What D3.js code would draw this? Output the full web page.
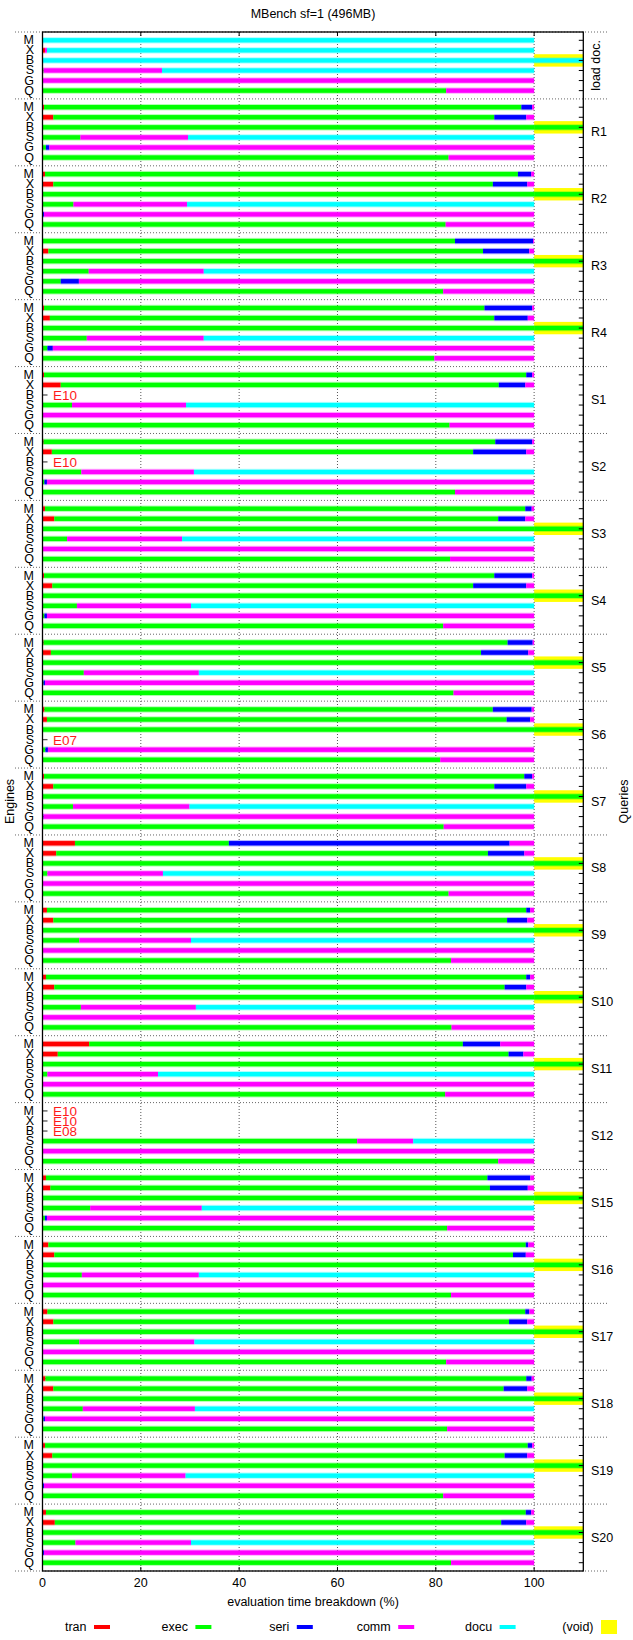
<!DOCTYPE html>
<html>
<head>
<meta charset="utf-8">
<script src="https://cdn.jsdelivr.net/npm/d3@7"></script>
<style>
  html, body { margin: 0; padding: 0; background: #fff; }
  svg text { font-family: "Liberation Sans", Arial, Helvetica, sans-serif; fill: #000; }
</style>
</head>
<body>
<svg id="chart" width="633" height="1640"></svg>
<script>
// ---------------- data ----------------
const queries = ["load doc.","R1","R2","R3","R4","S1","S2","S3","S4","S5","S6","S7","S8","S9","S10","S11","S12","S15","S16","S17","S18","S19","S20"];
const engines = ["M","X","B","S","G","Q"];
const components = ["tran","exec","seri","comm","docu"];
const compColors = ["#ff0000","#00ff00","#0000ff","#ff00ff","#00ffff"];
const voidColor = "#ffff00";
const xTicks = [0,20,40,60,80,100];

// rows: [tran, exec, seri, comm, docu] for engines M, X, B, S, G, Q ; null = failed run
const q_loadDoc = [[0,0,0,0,100],[0.5,0,0,0.4,99.1],[0,0,0,0,100],[0,0.2,0,24.1,75.7],[0,0,0,100,0],[0,82.1,0,17.9,0]];
const q_R1  = [[0.3,97.1,2.2,0.4,0],[2.2,89.7,6.5,1.6,0],[0,100,0,0,0],[0,7.7,0,21.9,70.4],[0,0.7,0.7,98.6,0],[0,82.6,0,17.4,0]];
const q_R2  = [[0.5,96.2,2.7,0.6,0],[2.2,89.4,7.0,1.4,0],[0,100,0,0,0],[0,6.3,0,23.1,70.6],[0,0.1,0.2,99.7,0],[0,82.0,0,18.0,0]];
const q_R3  = [[0,83.9,15.9,0.2,0],[1.2,88.4,9.4,1.0,0],[0,100,0,0,0],[0,9.4,0,23.4,67.2],[0,3.7,3.7,92.6,0],[0,81.5,0,18.5,0]];
const q_R4  = [[0.3,89.6,9.7,0.4,0],[1.5,90.4,6.8,1.3,0],[0,100,0,0,0],[0,9.0,0,23.8,67.2],[0,1.0,1.1,97.9,0],[0,79.7,0,20.3,0]];
const q_S1  = [[0.3,98.1,1.2,0.4,0],[3.7,89.1,5.4,1.8,0],null,[0,6.0,0,23.2,70.8],[0,0,0,100,0],[0,82.8,0,17.2,0]];
const q_S2  = [[0.2,91.9,7.5,0.4,0],[1.9,85.7,10.8,1.6,0],null,[0,7.9,0,22.9,69.2],[0,0.4,0.5,99.1,0],[0,83.9,0,16.1,0]];
const q_S3  = [[0.5,97.7,1.3,0.5,0],[2.4,90.3,5.5,1.8,0],[0,100,0,0,0],[0,5.0,0,23.4,71.6],[0,0,0,100,0],[0,82.9,0,17.1,0]];
const q_S4  = [[0.3,91.6,7.7,0.4,0],[2.0,85.6,10.8,1.6,0],[0,100,0,0,0],[0,7.0,0,23.2,69.8],[0,0.4,0.5,99.1,0],[0,81.5,0,18.5,0]];
const q_S5  = [[0.2,94.4,5.1,0.3,0],[1.7,87.5,9.6,1.2,0],[0,100,0,0,0],[0,8.4,0,23.4,68.2],[0,0.2,0.3,99.5,0],[0,83.6,0,16.4,0]];
const q_S6  = [[0.4,91.2,7.9,0.5,0],[0.9,93.5,4.8,0.8,0],[0,100,0,0,0],null,[0,0.6,0.5,98.9,0],[0,80.9,0,19.1,0]];
const q_S7  = [[0.3,97.7,1.6,0.4,0],[2.2,89.7,6.5,1.6,0],[0,100,0,0,0],[0,6.2,0,23.7,70.1],[0,0,0.2,99.8,0],[0,81.6,0,18.4,0]];
const q_S8  = [[6.6,31.3,57.1,5.0,0],[2.8,87.8,7.4,2.0,0],[0,100,0,0,0],[0,1.0,0,23.5,75.5],[0,0,0,100,0],[0,82.6,0,17.4,0]];
const q_S9  = [[0.9,97.5,0.8,0.8,0],[2.2,92.3,4.1,1.4,0],[0,100,0,0,0],[0,7.5,0,22.7,69.8],[0,0,0,100,0],[0,83.1,0,16.9,0]];
const q_S10 = [[0.7,97.7,0.8,0.8,0],[2.4,91.6,4.4,1.6,0],[0,100,0,0,0],[0,7.8,0,23.4,68.8],[0,0,0,100,0],[0,83.2,0,16.8,0]];
const q_S11 = [[9.5,76.0,7.6,6.9,0],[3.1,91.7,3.0,2.2,0],[0,100,0,0,0],[0,1.0,0,22.5,76.5],[0,0,0,100,0],[0,81.9,0,18.1,0]];
const q_S12 = [null,null,null,[0,64.0,0,11.4,24.6],[0,0,0,100,0],[0,92.7,0,7.3,0]];
const q_S15 = [[0.7,89.8,8.7,0.8,0],[1.6,89.4,7.7,1.3,0],[0,100,0,0,0],[0,9.7,0,22.7,67.6],[0,0.5,0.4,99.1,0],[0,82.3,0,17.7,0]];
const q_S16 = [[1.2,97.1,0.5,1.2,0],[2.4,93.3,2.6,1.7,0],[0,100,0,0,0],[0,8.0,0,23.8,68.2],[0,0,0,100,0],[0,83.1,0,16.9,0]];
const q_S17 = [[1.0,97.2,0.8,1.0,0],[2.2,92.7,3.7,1.4,0],[0,100,0,0,0],[0,7.5,0,23.4,69.1],[0,0,0,100,0],[0,82.1,0,17.9,0]];
const q_S18 = [[0.6,97.8,1.1,0.5,0],[2.2,91.6,4.8,1.4,0],[0,100,0,0,0],[0,8.2,0,22.8,69.0],[0,0.2,0.3,99.5,0],[0,82.3,0,17.7,0]];
const q_S19 = [[0.5,98.2,0.9,0.4,0],[2.0,92.0,4.6,1.4,0],[0,100,0,0,0],[0,6.0,0,23.1,70.9],[0,0.1,0.2,99.7,0],[0,81.5,0,18.5,0]];
const q_S20 = [[0.7,97.6,1.1,0.6,0],[2.5,90.8,5.1,1.6,0],[0,100,0,0,0],[0,6.7,0,23.5,69.8],[0,0.1,0.2,99.7,0],[0,83.1,0,16.9,0]];

const errorLabels = [["S1","B","E10"],["S2","B","E10"],["S6","S","E07"],["S12","M","E10"],["S12","X","E10"],["S12","B","E08"]];
const voidEngine = "B";
const voidQueries = ["load doc.","R1","R2","R3","R4","S3","S4","S5","S6","S7","S8","S9","S10","S11","S15","S16","S17","S18","S19","S20"];
const voidWidth = 10;

const table = [q_loadDoc,q_R1,q_R2,q_R3,q_R4,q_S1,q_S2,q_S3,q_S4,q_S5,q_S6,q_S7,q_S8,q_S9,q_S10,q_S11,q_S12,q_S15,q_S16,q_S17,q_S18,q_S19,q_S20];

// ---------------- layout ----------------
const svg = d3.select("#chart");
const L = 42.5, R = 583.3, T = 32, B = 1571;
const x = d3.scaleLinear().domain([0, 110]).range([L, R]);
const gy = d3.scaleBand().domain(queries).range([T, B]);
const ry = d3.scalePoint().domain(engines).range([0, gy.bandwidth()]).padding(0.825);
const rowY = (q, e) => gy(q) + ry(e);
const color = d3.scaleOrdinal().domain(components).range(compColors);
const barH = 4.4;

// grid (vertical dotted)
svg.append("g").selectAll("line").data(xTicks).join("line")
  .attr("x1", d => x(d)).attr("x2", d => x(d))
  .attr("y1", T).attr("y2", B)
  .attr("stroke", "#555").attr("stroke-width", 1).attr("stroke-dasharray", "1,2");

// group separators (dotted)
const seps = queries.map(q => gy(q)).concat([B]);
svg.append("g").selectAll("line").data(seps).join("line")
  .attr("x1", 15).attr("x2", 608)
  .attr("y1", d => d).attr("y2", d => d)
  .attr("stroke", "#666").attr("stroke-width", 1).attr("stroke-dasharray", "1,2");

// left/right row ticks
const rows = [];
queries.forEach(q => engines.forEach(e => rows.push({q, e})));
svg.append("g").selectAll("line").data(rows).join("line")
  .attr("x1", L).attr("x2", L + 5)
  .attr("y1", d => rowY(d.q, d.e)).attr("y2", d => rowY(d.q, d.e))
  .attr("stroke", "#555").attr("stroke-width", 1.3);

// void boxes
svg.append("g").selectAll("rect").data(voidQueries).join("rect")
  .attr("x", x(100)).attr("width", x(100 + voidWidth) - x(100))
  .attr("y", d => rowY(d, voidEngine) - 6.2).attr("height", 12.4)
  .attr("fill", voidColor);

// stacked bars
const segs = [];
table.forEach((rowsQ, qi) => {
  rowsQ.forEach((vals, ei) => {
    if (!vals) return;
    let acc = 0;
    let lastC = null;
    vals.forEach((v, ci) => {
      if (v > 0) {
        segs.push({q: queries[qi], e: engines[ei], x0: acc, x1: acc + v, c: components[ci]});
        lastC = components[ci];
      }
      acc += v;
    });
    if (engines[ei] === voidEngine && voidQueries.includes(queries[qi])) {
      segs.push({q: queries[qi], e: engines[ei], x0: acc, x1: acc + voidWidth, c: lastC});
    }
  });
});
const barG = svg.append("g");
barG.selectAll("rect.halo").data(segs).join("rect").attr("class", "halo")
  .attr("x", d => x(d.x0)).attr("width", d => Math.max(0, x(d.x1) - x(d.x0)))
  .attr("y", d => rowY(d.q, d.e) - barH / 2 - 1).attr("height", barH + 2)
  .attr("fill", d => color(d.c)).attr("opacity", 0.3);
barG.selectAll("rect.bar").data(segs).join("rect").attr("class", "bar")
  .attr("x", d => x(d.x0)).attr("width", d => Math.max(0, x(d.x1) - x(d.x0)))
  .attr("y", d => rowY(d.q, d.e) - barH / 2).attr("height", barH)
  .attr("fill", d => color(d.c));

// right row ticks (drawn over)
svg.append("g").selectAll("line").data(rows).join("line")
  .attr("x1", R - 4.5).attr("x2", R)
  .attr("y1", d => rowY(d.q, d.e)).attr("y2", d => rowY(d.q, d.e))
  .attr("stroke", "#000").attr("stroke-width", 1);

// border
svg.append("rect").attr("x", L).attr("y", T).attr("width", R - L).attr("height", B - T)
  .attr("fill", "none").attr("stroke", "#000").attr("stroke-width", 1.3);

// x ticks top/bottom
svg.append("g").selectAll("line").data(xTicks).join("line")
  .attr("x1", d => x(d)).attr("x2", d => x(d)).attr("y1", B).attr("y2", B - 4)
  .attr("stroke", "#000");
svg.append("g").selectAll("line").data(xTicks).join("line")
  .attr("x1", d => x(d)).attr("x2", d => x(d)).attr("y1", T).attr("y2", T + 4)
  .attr("stroke", "#000");

// x tick labels
svg.append("g").selectAll("text").data(xTicks).join("text")
  .attr("x", d => x(d)).attr("y", 1583).attr("text-anchor", "middle")
  .attr("dominant-baseline", "central").attr("font-size", 12.5)
  .text(d => d);

// engine labels (left)
svg.append("g").selectAll("text").data(rows).join("text")
  .attr("x", 34).attr("y", d => rowY(d.q, d.e)).attr("text-anchor", "end")
  .attr("dominant-baseline", "central").attr("font-size", 12.5)
  .text(d => d.e);

// error labels
svg.append("g").selectAll("text").data(errorLabels).join("text")
  .attr("x", 53).attr("y", d => rowY(d[0], d[1]) + 0.5)
  .attr("dominant-baseline", "central").attr("font-size", 13.5)
  .style("fill", "#ff1a1a")
  .text(d => d[2]);

// query labels (right)
const qLab = svg.append("g");
queries.forEach(q => {
  const cy = gy(q) + gy.bandwidth() / 2;
  if (q === "load doc.") {
    qLab.append("text").attr("transform", `translate(596,${cy}) rotate(-90)`)
      .attr("text-anchor", "middle").attr("dominant-baseline", "central")
      .attr("font-size", 12.5).text(q);
  } else {
    qLab.append("text").attr("x", 591).attr("y", cy)
      .attr("dominant-baseline", "central").attr("font-size", 12.5).text(q);
  }
});

// title and axis labels
svg.append("text").attr("x", 313).attr("y", 14).attr("text-anchor", "middle")
  .attr("dominant-baseline", "central").attr("font-size", 12.5).text("MBench sf=1 (496MB)");
svg.append("text").attr("x", 313).attr("y", 1602).attr("text-anchor", "middle")
  .attr("dominant-baseline", "central").attr("font-size", 12.5).text("evaluation time breakdown (%)");
svg.append("text").attr("transform", `translate(10,${(T + B) / 2}) rotate(-90)`)
  .attr("text-anchor", "middle").attr("dominant-baseline", "central")
  .attr("font-size", 12.5).text("Engines");
svg.append("text").attr("transform", `translate(624,${(T + B) / 2}) rotate(-90)`)
  .attr("text-anchor", "middle").attr("dominant-baseline", "central")
  .attr("font-size", 12.5).text("Queries");

// legend
const legendItems = components.map((c, i) => ({label: c, color: compColors[i], box: false}))
  .concat([{label: "(void)", color: voidColor, box: true}]);
const lx = d3.scaleLinear().domain([0, 1]).range([94, 195.4]);
const lg = svg.append("g").selectAll("g").data(legendItems).join("g");
lg.append("text").attr("x", (d, i) => lx(i) - 7.5).attr("y", 1627)
  .attr("text-anchor", "end").attr("dominant-baseline", "central").attr("font-size", 12.5)
  .text(d => d.label);
lg.append("rect").attr("x", (d, i) => lx(i)).attr("width", 16)
  .attr("y", d => d.box ? 1620 : 1625).attr("height", d => d.box ? 14 : 4)
  .attr("fill", d => d.color);
</script>
</body>
</html>
